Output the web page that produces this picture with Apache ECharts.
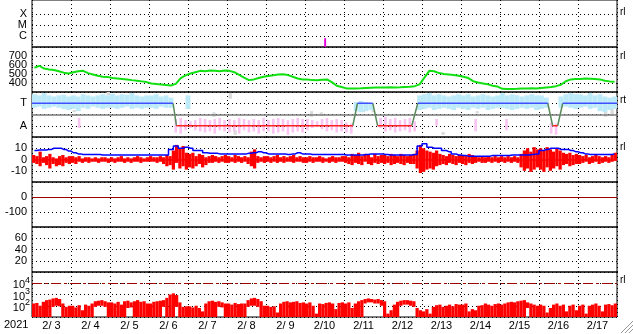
<!DOCTYPE html>
<html><head><meta charset="utf-8">
<script src="https://cdn.jsdelivr.net/npm/echarts/dist/echarts.min.js"></script>
<style>html,body{margin:0;padding:0;background:#fff}#c{width:633px;height:334px}</style>
</head><body><div id="c"></div><script>
// ---- labels ----
const dayLabels = ['2/ 3','2/ 4','2/ 5','2/ 6','2/ 7','2/ 8','2/ 9','2/10','2/11','2/12','2/13','2/14','2/15','2/16','2/17'];
const yearLabel = '2021';
const xrayLabels = {1:'C', 2:'M', 3:'X'};
const sectorLabels = {1:'A', 3:'T'};
const sideLabels = ['rl','rl','rt','rl','rl'];

// ---- data (hours since 2/3 00:00) ----
// solar wind speed, 3-hour values
const speed = [
570,590,560,550,545,530,515,505,
520,530,535,510,495,480,470,468,
455,450,445,440,432,425,418,410,
395,388,383,378,372,390,455,485,
505,520,535,530,540,535,530,540,
535,520,490,460,432,440,455,470,
478,485,495,498,488,470,450,440,
438,432,430,435,440,410,370,355,
340,338,340,342,345,348,350,350,
350,352,350,352,355,358,365,385,
460,535,530,510,500,495,490,480,
470,455,420,405,395,385,370,360,
335,332,333,335,338,340,342,340,
345,350,355,365,380,420,440,445,
445,450,448,445,440,425,418,415];
// IMF Bt, 3-hour values
const bt = [
8,8.5,8.5,9,10,10,9,7.5,
6,5,4.5,4.5,4.5,4.5,4,4,
4,4,4,4,4,4,4,4,
4,4,4,4,9,12,10,11,
10,8,8,6,5.5,5.5,5,5,
5,5,5,5,5.5,6,7,6,
5,5,5,5,4.5,5,6,5,
5,4.5,4.5,4.5,4.5,4.5,4.5,4.5,
4,4,4,4,4.5,5,5,5,
4.5,4,4,4,4,4,4.5,12,
14,11,10,10,8,7,5,4,
3.5,3,3,3,3,3,3.5,3.5,
3.5,3.5,4,4,4,4,4.5,5,
8,9,10,10,9,9,8,7,
6,5,4.5,4.5,4.5,4.5,4.5,5];
// IMF Bz range per 2-hour bin
const bzHi = [
4,3,7,2,3,5,2,1,3,4,2,3,
3,2,3,1,2,2,1,2,1,2,2,1,
2,1,2,3,1,2,1,2,3,2,1,2,
3,2,2,3,2,4,3,8,13,10,12,6,
5,6,3,5,4,2,3,4,3,2,3,4,
3,2,4,3,2,3,2,7,9,3,2,3,
3,2,3,4,2,3,2,3,4,2,3,2,
2,3,2,2,3,2,1,2,3,2,2,3,
3,2,5,4,6,3,5,4,2,5,3,4,
4,3,5,4,3,5,4,3,4,5,8,13,
10,8,7,6,8,5,4,3,5,4,3,4,
4,3,5,4,3,2,3,2,3,2,3,2,
3,2,3,2,3,2,5,8,10,7,11,9,
10,8,11,9,7,10,8,6,5,6,4,5,
4,3,4,2,3,4,3,2,3,2,4,6];
const bzLo = [
-3,-4,-6,-3,-5,-8,-4,-6,-5,-6,-3,-4,
-3,-4,-2,-3,-2,-3,-2,-2,-3,-2,-2,-3,
-2,-3,-2,-2,-3,-2,-3,-2,-2,-3,-2,-2,
-2,-2,-3,-2,-4,-6,-5,-9,-3,-8,-6,-9,
-7,-8,-6,-4,-7,-5,-3,-3,-2,-3,-2,-3,
-3,-2,-3,-2,-3,-2,-4,-6,-8,-3,-2,-3,
-2,-3,-2,-3,-2,-3,-2,-2,-3,-2,-2,-3,
-3,-2,-3,-2,-2,-3,-2,-3,-2,-3,-2,-2,
-3,-4,-5,-3,-4,-5,-2,-4,-5,-3,-4,-3,
-4,-3,-5,-4,-3,-4,-5,-3,-4,-4,-8,-12,
-11,-9,-8,-9,-6,-5,-4,-5,-3,-4,-5,-3,
-4,-5,-3,-4,-3,-2,-3,-3,-2,-3,-2,-3,
-2,-3,-2,-3,-2,-3,-7,-10,-8,-11,-9,-7,
-9,-11,-7,-10,-8,-6,-9,-5,-4,-6,-5,-4,
-4,-3,-2,-4,-3,-2,-4,-3,-2,-3,-2,-1];
// log10 electron flux range per 2-hour bin
const fluxHi = [
2.2,2.25,2.0,2.35,2.5,2.55,2.65,2.7,2.6,2.2,1.9,2.0,
2.0,1.85,2.05,1.6,2.1,2.0,2.2,2.4,2.45,2.5,2.4,2.3,
2.3,2.2,2.35,2.1,2.4,2.45,2.3,2.4,2.5,2.35,2.4,2.2,
2.2,2.35,2.4,2.45,2.5,2.7,3.0,3.1,2.95,2.3,1.9,1.95,
1.95,1.85,2.0,1.8,1.5,2.2,2.4,2.45,2.35,2.4,2.3,2.2,
2.2,2.1,2.25,2.15,2.2,2.2,2.5,2.65,2.7,2.6,2.4,2.0,
2.0,1.9,1.95,1.4,2.2,2.35,2.4,2.3,2.35,2.4,2.25,2.3,
2.2,2.3,2.0,1.3,2.2,2.15,2.25,2.3,2.2,1.7,2.25,2.3,
2.2,2.3,1.8,2.2,2.4,2.5,2.6,2.65,2.6,2.55,2.6,2.5,
2.4,1.3,1.6,2.1,2.35,2.45,2.5,2.5,2.45,2.4,1.8,1.6,
1.5,1.7,1.3,1.9,2.05,2.1,1.9,2.0,2.1,1.95,2.15,2.1,
2.1,2.2,1.5,1.7,1.6,2.0,2.05,2.2,2.1,2.0,2.15,2.2,
2.1,2.2,2.3,2.35,2.3,2.4,2.45,2.5,2.3,2.2,2.1,2.0,
2.1,2.0,1.4,1.8,2.1,2.2,2.0,2.1,1.5,2.0,2.1,1.6,
2.0,2.1,1.3,2.0,2.1,2.2,2.0,1.5,2.1,2.15,2.05,2.2];
const fluxLo = [
1,1,1,1,1,1,1.9,2.0,1.95,1,1,1,
1,1,1,1,1,1,1,1.9,2.0,2.0,1.9,1,
1,1,1,1,1,1.8,1.85,1,1,1,1,1,
1,1,1,1,1.9,1,1,1,1.9,1,1,1,
1,1,1,1,1,1,1,1,1,1.9,1.85,1,
1,1,1,1,1,1,1.9,2.0,2.0,1.9,1,1,
1,1,1,1,1,1,1,1,1,1,1,1,
1,1,1,1,1,1,1,1,1,1,1,1,
1,1,1,1,1,1,2.2,2.3,2.3,2.2,2.2,2.0,
1,1,1,1,1,2.0,2.1,2.1,2.0,1.9,1,1,
1,1,1,1,1,1,1,1,1,1,1,1,
1,1,1,1,1,1,1,1,1,1,1,1,
1,1,1,1,1,1,1,1,1.8,1,1,1,
1,1,1,1,1,1,1,1,1,1,1,1,
1,1,1,1,1,1,1,1,1,1,1,1];
// IMF angle (panel units: A=1, T=3), range per 3-hour bin
const phiHi = [
3.8,3.7,3.9,3.7,3.6,3.7,3.75,3.6,
3.7,3.6,3.8,3.7,3.6,3.7,3.8,3.7,
3.85,3.7,3.8,3.75,3.9,3.7,3.6,3.7,
3.7,3.8,3.6,3.7,3.5,1.6,1.7,1.5,
1.4,1.5,1.7,1.6,1.5,1.6,1.7,1.5,
1.6,1.5,1.7,1.6,1.5,1.6,1.5,1.7,
1.5,1.6,1.7,1.6,1.5,1.6,1.7,1.6,
1.6,1.5,1.4,1.6,1.7,1.5,1.6,1.5,
1.3,1.2,3.1,3.2,3.1,3.0,null,1.7,
1.8,1.6,1.7,1.5,1.6,1.7,1.4,3.7,
3.8,3.9,3.7,3.8,3.7,3.6,3.7,3.8,
3.7,3.8,3.6,3.7,3.8,3.7,3.6,3.7,
3.9,3.7,3.8,3.7,3.6,3.7,3.8,3.7,
3.7,3.5,1.3,1.2,3.6,3.8,3.9,3.8,
3.8,3.7,3.9,3.7,3.8,3.6,3.5,3.6];
const phiLo = [
2.6,2.7,2.5,2.6,2.7,2.6,2.5,2.4,
2.5,2.3,2.6,2.5,2.7,2.6,2.5,2.6,
2.6,2.5,2.6,2.7,2.5,2.6,2.5,2.6,
2.6,2.5,2.7,2.6,2.6,0.4,0.3,0.6,
0.8,0.6,0.5,0.4,0.5,0.3,0.6,0.5,
0.4,0.5,0.3,0.6,0.4,0.5,0.3,0.5,
0.5,0.3,0.4,0.5,0.2,0.4,0.5,0.4,
0.6,0.8,0.9,0.7,0.5,0.6,0.4,0.5,
0.4,0.3,2.3,2.2,2.3,2.4,null,0.8,
0.5,0.6,0.4,0.5,0.6,0.4,0.5,2.4,
2.5,2.6,2.4,2.5,2.6,2.5,2.4,2.6,
2.5,2.4,2.6,2.5,2.6,2.4,2.5,2.6,
2.6,2.5,2.4,2.5,2.6,2.5,2.6,2.4,
2.5,2.6,0.3,0.2,2.6,2.7,2.6,2.5,
2.6,2.7,2.5,2.6,2.3,2.2,2.4,2.5];
// extra scattered angle samples [hour, lo, hi]
const phiExtra = [[29,0.8,1.7],[96,2.5,3.7],[249,1.0,1.6],[273,0.5,1.6],[292,0.6,1.6]];
const phiGray = [[26,2.2,2.4],[47,3.7,4.0],[112,1.8,2.2],[122,3.4,3.9],[125,0.2,0.6],[172,1.8,2.3],[178,1.9,2.2],[204,2.2,2.4],[210,2.2,2.4],[253,0.2,0.45],[274,2.1,2.3],[298,3.1,3.7],[353,1.8,2.7],[357,1.9,2.5]];
// sector polarity (hour, level)
const sectorHours = [0,86.8,88.9,197.4,200.3,209.7,212.7,233.7,237.4,317.4,320.4,323.5,326.6,360];
const sectorLevel = [3,3,1,1,3,3,1,1,3,3,1,1,3,3];
// flare event [hour, lo, hi]
const flares = [[180.4,0,0.8]];

// ---- build ----
const FONT = 'Liberation Sans, Arial, sans-serif';
const panels = [[-1,48],[47,45],[92,45],[137,45],[182,45],[227,45],[272,45]];
const dotted = {color:'#000', type:[1,3], width:1};
const grids = panels.map(p => ({left:32, right:16, top:p[0], height:p[1], show:true, borderColor:'#000', borderWidth:1}));
const xAxes = panels.map((p,i) => ({type:'value', gridIndex:i, min:0, max:360, interval:24,
  axisLabel:{show:false}, axisTick:{show:false}, axisLine:{show:false}, splitLine:{show:true, lineStyle:dotted}}));
xAxes.push({type:'category', gridIndex:6, position:'bottom', data:dayLabels, boundaryGap:true,
  axisLine:{show:false}, axisTick:{show:false}, splitLine:{show:false},
  axisLabel:{interval:0, color:'#000', fontSize:11, fontFamily:FONT, margin:3}});
function yax(i, o) {
  return Object.assign({type:'value', gridIndex:i, axisLine:{show:false}, axisTick:{show:false},
    axisLabel:{color:'#000', fontSize:11, fontFamily:FONT, margin:5, showMinLabel:false, showMaxLabel:false},
    splitLine:{show:true, lineStyle:dotted}}, o);
}
const yAxes = [
  yax(0, {min:0, max:48/11.25, interval:1, splitLine:{show:false},
    axisLabel:{color:'#000', fontSize:11, fontFamily:FONT, margin:5, formatter:v => xrayLabels[v] || ''}}),
  yax(1, {min:300, max:800, interval:100}),
  yax(2, {min:0, max:4, interval:1, axisLabel:{color:'#000', fontSize:11, fontFamily:FONT, margin:5, formatter:v => sectorLabels[v] || ''}}),
  yax(3, {min:-20, max:20, interval:10}),
  yax(4, {min:-200, max:100, interval:100}),
  yax(5, {min:0, max:80, interval:20}),
  yax(6, {min:1, max:5, interval:1, axisLabel:{margin:2, showMinLabel:false, showMaxLabel:false,
    formatter:v => (v>=2 && v<=4) ? '{b|10}{s|'+v+'}' : '',
    rich:{b:{fontSize:11, fontFamily:FONT, color:'#000', verticalAlign:'bottom'},
          s:{fontSize:9, fontFamily:FONT, color:'#000', verticalAlign:'bottom', padding:[0,0,6,0]}}}})
];

function rangeSeries(i, data, widthH, colorFn, z) {
  return {type:'custom', xAxisIndex:i, yAxisIndex:i, clip:true, z:z||2, silent:true,
    encode:{x:0, y:[1,2]}, data:data,
    renderItem:(params, api) => {
      const x = api.value(0), lo = api.value(1), hi = api.value(2);
      const a = api.coord([x - widthH/2, hi]);
      const b = api.coord([x + widthH/2, lo]);
      return {type:'rect', shape:{x:a[0], y:a[1], width:Math.max(1, b[0]-a[0]), height:Math.max(1, b[1]-a[1])},
        style:{fill:colorFn(lo, hi)}};
    }};
}
function hline(v, style) { return {yAxis:v, lineStyle:style}; }
function marks(lines) { return {silent:true, symbol:'none', label:{show:false}, animation:false, data:lines}; }

const speedData = speed.map((v,i) => [i*3+1.5, v]);
const btData = bt.map((v,i) => [i*3+1.5, v]);
const bzData = bzHi.map((h,i) => [i*2+1, bzLo[i], h]);
const fluxData = fluxHi.map((h,i) => [i*2+1, fluxLo[i], h]);
const phiToward = [], phiAway = [];
phiHi.forEach((h,i) => { if (h !== null) (h > 2 ? phiToward : phiAway).push([i*3+1.5, phiLo[i], h]); });
phiExtra.forEach(p => (p[2] > 2 ? phiToward : phiAway).push(p));

const segBlue = [], segRed = [], segGreen = [];
for (let k = 0; k < sectorHours.length-1; k++) {
  const a = [sectorHours[k], sectorLevel[k]], b = [sectorHours[k+1], sectorLevel[k+1]];
  const tgt = (a[1]===3 && b[1]===3) ? segBlue : (a[1]===1 && b[1]===1) ? segRed : segGreen;
  tgt.push(a, b, [b[0], '-']);
}

const series = [
  {type:'line', xAxisIndex:0, yAxisIndex:0, data:[], markLine:marks([1,2,3].map(v => hline(v, dotted)))},
  rangeSeries(0, flares, 1.2, () => '#e000e0'),
  {type:'line', xAxisIndex:1, yAxisIndex:1, data:speedData, symbol:'none', lineStyle:{color:'#11e011', width:2}},
  rangeSeries(2, phiGray, 2, () => '#dadada'),
  rangeSeries(2, phiToward, 3, () => '#bdeaf8'),
  rangeSeries(2, phiAway, 1.6, () => '#f9c4f2'),
  {type:'line', xAxisIndex:2, yAxisIndex:2, data:[], markLine:marks([hline(2, {color:'#7a7a7a', type:'solid', width:1.5})])},
  {type:'line', xAxisIndex:2, yAxisIndex:2, data:segGreen, symbol:'none', z:5, lineStyle:{color:'#5a8a5a', width:1.5}},
  {type:'line', xAxisIndex:2, yAxisIndex:2, data:segBlue, symbol:'none', z:5, lineStyle:{color:'#4050ff', width:1.5}},
  {type:'line', xAxisIndex:2, yAxisIndex:2, data:segRed, symbol:'none', z:5, lineStyle:{color:'#ff2020', width:1.5}},
  Object.assign(rangeSeries(3, bzData, 2, () => '#ff0000'), {markLine:marks([hline(0, {color:'#ff0000', type:'solid', width:1.5})])}),
  {type:'line', xAxisIndex:3, yAxisIndex:3, data:btData, symbol:'none', z:6, step:'middle', lineStyle:{color:'#0000ff', width:1.5}},
  {type:'line', xAxisIndex:4, yAxisIndex:4, data:[], markLine:marks([hline(0, {color:'#a00000', type:'solid', width:1})])},
  Object.assign(rangeSeries(6, fluxData, 2, () => '#ff0000'), {markLine:marks([hline(4, {color:'#a00000', type:[10,3,3,3], width:1})])})
];

const graphic = [
  {type:'text', left:4, top:319, style:{text:yearLabel, font:'11px '+FONT, fill:'#000'}}
];
const sideY = [7, 51, 95, 142, 275];
sideLabels.forEach((t,i) => graphic.push({type:'text', left:620, top:sideY[i], style:{text:t, font:'10px '+FONT, fill:'#000'}}));
[[633,321,621,333],[633,325,625,333],[633,329,629,333]].forEach(l =>
  graphic.push({type:'line', shape:{x1:l[0], y1:l[1], x2:l[2], y2:l[3]}, style:{stroke:'#999', lineWidth:1}}));

const chart = echarts.init(document.getElementById('c'), null, {renderer:'canvas'});
chart.setOption({animation:false, backgroundColor:'#fff', grid:grids, xAxis:xAxes, yAxis:yAxes, series:series, graphic:graphic});
</script></body></html>
